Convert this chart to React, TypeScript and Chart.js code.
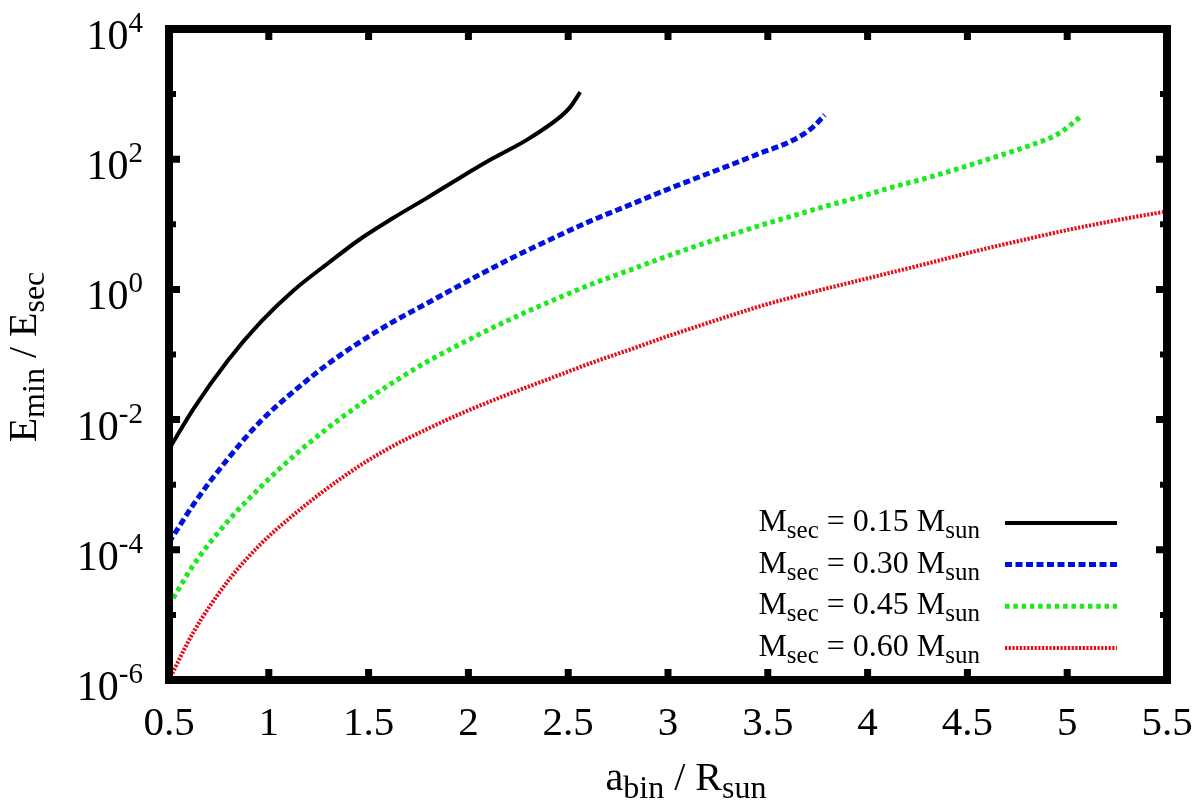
import { useEffect, useRef } from "react";
import { Chart, registerables } from "chart.js";

Chart.register(...registerables);

// axis ticks
const xTicks = [0.5, 1, 1.5, 2, 2.5, 3, 3.5, 4, 4.5, 5, 5.5];
const xTickLabels = ["0.5", "1", "1.5", "2", "2.5", "3", "3.5", "4", "4.5", "5", "5.5"];
const yMajorTicks = [1e-6, 1e-4, 1e-2, 1, 1e2, 1e4];
const yTickExponents = ["-6", "-4", "-2", "0", "2", "4"];
const yMinorTicks = [1e-5, 1e-3, 1e-1, 1e1, 1e3];

const massLabels = ["0.15", "0.30", "0.45", "0.60"];

// M_sec = 0.15 M_sun
const x015 = [0.5, 0.625, 0.795, 0.96, 1.125, 1.295, 1.46, 1.625, 1.795, 1.96, 2.125, 2.295, 2.46, 2.51, 2.56];
const y015 = [3.5e-3, 1.5e-2, 8.1e-2, 0.316, 0.97, 2.5, 6.0, 12.6, 25.7, 52.5, 104, 200, 447, 631, 1070];

// M_sec = 0.30 M_sun
const x030 = [0.5, 0.625, 0.795, 0.96, 1.127, 1.295, 1.46, 1.627, 1.795, 1.96, 2.127, 2.295, 2.46, 2.625, 2.795, 2.96, 3.125, 3.295, 3.46, 3.625, 3.725, 3.785];
const y030 = [1.29e-4, 5.1e-4, 2.5e-3, 9.5e-3, 2.75e-2, 7.1e-2, 0.158, 0.324, 0.617, 1.17, 2.19, 3.98, 6.9, 11.7, 19.1, 30.9, 49, 77.6, 123, 195, 309, 479];

// M_sec = 0.45 M_sun
const x045 = [0.5, 0.625, 0.795, 0.96, 1.127, 1.295, 1.46, 1.627, 1.795, 1.96, 2.127, 2.295, 2.46, 2.625, 2.795, 2.96, 3.125, 3.295, 3.46, 3.625, 3.795, 3.96, 4.125, 4.295, 4.46, 4.625, 4.795, 4.96, 5.07];
const y045 = [1.41e-5, 6.0e-5, 2.75e-4, 9.3e-4, 2.8e-3, 7.4e-3, 1.74e-2, 3.8e-2, 7.8e-2, 0.145, 0.263, 0.457, 0.76, 1.23, 1.91, 2.95, 4.47, 6.6, 9.55, 13.5, 19.1, 26.3, 37.2, 51.3, 72.4, 105, 155, 251, 457];

// M_sec = 0.60 M_sun
const x060 = [0.5, 0.625, 0.795, 0.96, 1.127, 1.295, 1.46, 1.627, 1.795, 1.96, 2.127, 2.295, 2.46, 2.625, 2.795, 2.96, 3.125, 3.295, 3.46, 3.625, 3.795, 3.96, 4.125, 4.295, 4.46, 4.625, 4.795, 4.96, 5.125, 5.295, 5.5];
const y060 = [1.0e-6, 5.6e-6, 3.3e-5, 1.23e-4, 3.5e-4, 8.9e-4, 2.0e-3, 4.0e-3, 7.2e-3, 1.23e-2, 2.0e-2, 3.16e-2, 4.9e-2, 7.6e-2, 0.115, 0.174, 0.257, 0.38, 0.55, 0.76, 1.035, 1.38, 1.84, 2.48, 3.35, 4.47, 5.89, 7.67, 9.77, 12.3, 15.8];

const FONT = '"Liberation Serif", "Times New Roman", serif';

type Seg = { t: string; k?: "sub" | "sup" };

function drawRich(
  ctx: CanvasRenderingContext2D,
  segs: Seg[],
  x: number,
  y: number,
  align: "left" | "center" | "right",
  mainSize: number,
  smallSize: number,
  subDy: number,
  supDy: number
) {
  const fontFor = (s: Seg) => `${s.k ? smallSize : mainSize}px ${FONT}`;
  const widths = segs.map((s) => {
    ctx.font = fontFor(s);
    return ctx.measureText(s.t).width;
  });
  const total = widths.reduce((a, b) => a + b, 0);
  let cx = align === "right" ? x - total : align === "center" ? x - total / 2 : x;
  ctx.textAlign = "left";
  ctx.textBaseline = "alphabetic";
  segs.forEach((s, i) => {
    ctx.font = fontFor(s);
    const dy = s.k === "sub" ? subDy : s.k === "sup" ? supDy : 0;
    ctx.fillText(s.t, cx, y + dy);
    cx += widths[i];
  });
}

const framePlugin = {
  id: "gnuplotFrame",
  afterDraw(chart: Chart) {
    const { ctx, chartArea: a, scales } = chart;
    const xs = scales.x;
    const ys = scales.y;
    ctx.save();
    ctx.fillStyle = "#000";
    ctx.strokeStyle = "#000";

    // ticks (inward, on all four sides)
    ctx.lineCap = "butt";
    ctx.lineWidth = 7;
    xTicks.forEach((v) => {
      const px = xs.getPixelForValue(v);
      ctx.beginPath();
      ctx.moveTo(px, a.bottom);
      ctx.lineTo(px, a.bottom - 11);
      ctx.moveTo(px, a.top);
      ctx.lineTo(px, a.top + 11);
      ctx.stroke();
    });
    yMajorTicks.forEach((v) => {
      const py = ys.getPixelForValue(v);
      ctx.beginPath();
      ctx.moveTo(a.left, py);
      ctx.lineTo(a.left + 11, py);
      ctx.moveTo(a.right, py);
      ctx.lineTo(a.right - 11, py);
      ctx.stroke();
    });
    ctx.lineWidth = 6;
    yMinorTicks.forEach((v) => {
      const py = ys.getPixelForValue(v);
      ctx.beginPath();
      ctx.moveTo(a.left, py);
      ctx.lineTo(a.left + 7, py);
      ctx.moveTo(a.right, py);
      ctx.lineTo(a.right - 7, py);
      ctx.stroke();
    });

    // frame
    ctx.lineWidth = 8;
    ctx.lineJoin = "miter";
    ctx.strokeRect(a.left, a.top, a.right - a.left, a.bottom - a.top);

    // tick labels
    xTicks.forEach((v, i) => {
      const px = xs.getPixelForValue(v);
      drawRich(ctx, [{ t: xTickLabels[i] }], px, a.bottom + 55, "center", 41, 29, 0, 0);
    });
    yMajorTicks.forEach((v, i) => {
      const py = ys.getPixelForValue(v);
      drawRich(ctx, [{ t: "10" }, { t: yTickExponents[i], k: "sup" }], a.left - 26, py + 20, "right", 42, 29, 0, -17);
    });

    // axis titles
    drawRich(
      ctx,
      [{ t: "a" }, { t: "bin", k: "sub" }, { t: " / R" }, { t: "sun", k: "sub" }],
      686,
      a.bottom + 110,
      "center",
      40,
      32,
      8,
      0
    );
    ctx.save();
    ctx.translate(36, 357);
    ctx.rotate(-Math.PI / 2);
    drawRich(
      ctx,
      [{ t: "E" }, { t: "min", k: "sub" }, { t: " / E" }, { t: "sec", k: "sub" }],
      0,
      0,
      "center",
      40,
      32,
      8,
      0
    );
    ctx.restore();

    // legend
    const sampleRight = a.right - 50;
    const sampleLeft = sampleRight - 112;
    chart.data.datasets.forEach((ds: any, i) => {
      const rowY = a.bottom - 32 - (3 - i) * 41.7;
      ctx.save();
      ctx.strokeStyle = ds.borderColor;
      ctx.lineWidth = ds.borderWidth;
      ctx.setLineDash(ds.borderDash || []);
      ctx.lineCap = "butt";
      ctx.beginPath();
      ctx.moveTo(sampleLeft, rowY);
      ctx.lineTo(sampleRight, rowY);
      ctx.stroke();
      ctx.restore();
      drawRich(
        ctx,
        [{ t: "M" }, { t: "sec", k: "sub" }, { t: ` = ${massLabels[i]} M` }, { t: "sun", k: "sub" }],
        sampleLeft - 25,
        rowY + 8,
        "right",
        32,
        25,
        7,
        0
      );
    });

    ctx.restore();
  },
};

const toPoints = (xv: number[], yv: number[]) => xv.map((x, i) => ({ x, y: yv[i] }));

export default function App() {
  const canvasRef = useRef<HTMLCanvasElement>(null);
  const chartRef = useRef<Chart | null>(null);

  useEffect(() => {
    if (!canvasRef.current) return;

    const common = {
      fill: false,
      pointRadius: 0,
      pointHoverRadius: 0,
      cubicInterpolationMode: "monotone" as const,
      borderCapStyle: "butt" as const,
    };

    chartRef.current?.destroy();
    chartRef.current = new Chart(canvasRef.current, {
      type: "line",
      data: {
        datasets: [
          { ...common, label: "0.15", data: toPoints(x015, y015), borderColor: "#000000", borderWidth: 4, borderDash: [] },
          { ...common, label: "0.30", data: toPoints(x030, y030), borderColor: "#0010e0", borderWidth: 5, borderDash: [7, 3.5] },
          { ...common, label: "0.45", data: toPoints(x045, y045), borderColor: "#1ee81e", borderWidth: 5, borderDash: [4.5, 3.8] },
          { ...common, label: "0.60", data: toPoints(x060, y060), borderColor: "#e80a14", borderWidth: 4, borderDash: [2.2, 1.5] },
        ],
      },
      options: {
        animation: false,
        responsive: true,
        maintainAspectRatio: false,
        events: [],
        layout: { padding: { left: 169, right: 33, top: 29, bottom: 130 } },
        plugins: {
          legend: { display: false },
          tooltip: { enabled: false },
        },
        scales: {
          x: { type: "linear", min: 0.5, max: 5.5, display: false },
          y: { type: "logarithmic", min: 1e-6, max: 1e4, display: false },
        },
      },
      plugins: [framePlugin],
    });

    return () => {
      chartRef.current?.destroy();
      chartRef.current = null;
    };
  }, []);

  return (
    <div style={{ position: "fixed", left: 0, top: 0, width: "1200px", height: "810px", background: "#fff" }}>
      <canvas ref={canvasRef} />
    </div>
  );
}
